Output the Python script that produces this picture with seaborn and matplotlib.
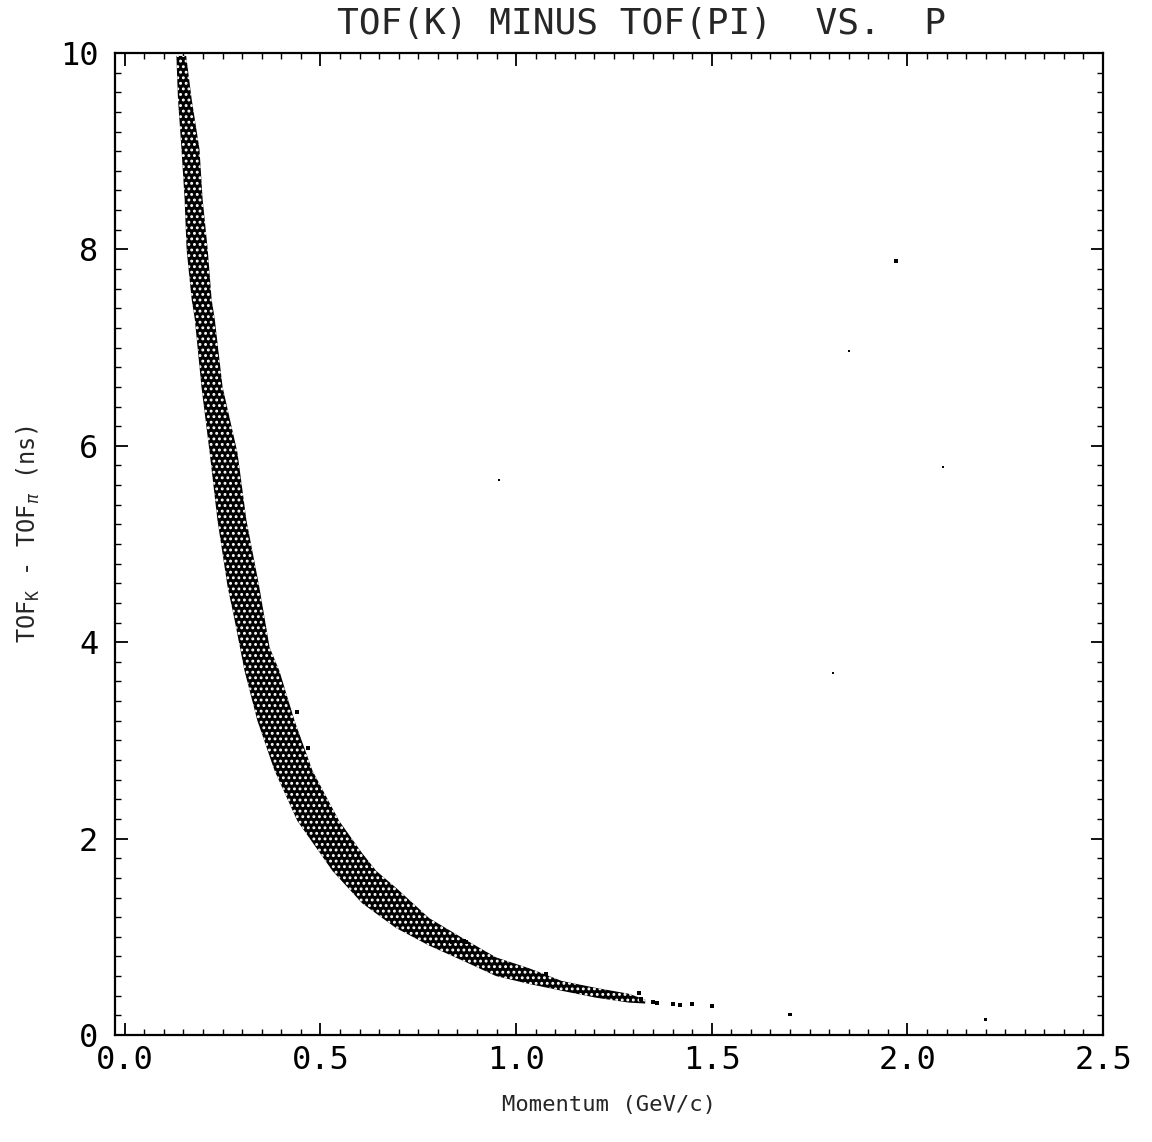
import numpy as np
import pandas as pd
import matplotlib
matplotlib.use("Agg")
import matplotlib.pyplot as plt
import seaborn as sns
from matplotlib.ticker import MultipleLocator

# ---- data ----
# dense (lower-left) edge of the kaon band, top to bottom
inner_p = [0.132, 0.136, 0.145, 0.153, 0.158, 0.171, 0.179, 0.196, 0.217, 0.237, 0.263, 0.281,
           0.306, 0.339, 0.383, 0.441, 0.531, 0.607, 0.693, 0.778, 0.862, 0.949, 1.033, 1.117,
           1.204, 1.288, 1.330]
inner_tof = [9.97, 9.53, 9.02, 8.51, 8.00, 7.49, 7.29, 6.60, 5.93, 5.24, 4.56, 4.22,
             3.71, 3.20, 2.69, 2.18, 1.67, 1.34, 1.09, 0.91, 0.76, 0.60, 0.52, 0.45,
             0.38, 0.33, 0.32]
# sparse (upper-right) edge of the band, top to bottom
outer_p = [0.157, 0.171, 0.191, 0.199, 0.212, 0.222, 0.230, 0.250, 0.288, 0.311, 0.344, 0.370,
           0.395, 0.434, 0.480, 0.548, 0.607, 0.643, 0.693, 0.778, 0.862, 0.949, 1.033, 1.117,
           1.204, 1.288, 1.330]
outer_tof = [9.97, 9.53, 9.02, 8.51, 8.00, 7.49, 7.29, 6.60, 5.93, 5.24, 4.56, 3.95,
             3.71, 3.20, 2.69, 2.18, 1.85, 1.67, 1.50, 1.19, 0.99, 0.79, 0.68, 0.55,
             0.48, 0.42, 0.36]
# isolated points at the fringe and in the high-momentum tail
fringe_p = [0.439, 0.469, 0.837, 0.872, 0.867, 1.076, 1.314, 1.32, 1.35, 1.36, 1.40, 1.42, 1.45, 1.50]
fringe_tof = [3.29, 2.92, 0.95, 0.95, 0.96, 0.62, 0.43, 0.37, 0.34, 0.33, 0.32, 0.31, 0.32, 0.30]
# stray points elsewhere
stray_p = [1.97, 1.85, 2.09, 1.81, 0.957, 1.70, 2.20]
stray_tof = [7.88, 6.97, 5.78, 3.69, 5.65, 0.21, 0.16]
stray_size = [9, 2, 2, 2, 2, 7, 4]

title = "TOF(K) MINUS TOF(PI)  VS.  P"
xlabel = "Momentum (GeV/c)"
ylabel = r"TOF$_\mathregular{K}$ - TOF$_\pi$ (ns)"
xticks = [0.0, 0.5, 1.0, 1.5, 2.0, 2.5]
yticks = [0, 2, 4, 6, 8, 10]

# ---- style ----
sns.set_style("ticks")
plt.rcParams["font.family"] = ["DejaVu Sans Mono", "DejaVu Sans"]
plt.rcParams["mathtext.fontset"] = "dejavusans"
plt.rcParams["hatch.linewidth"] = 1.3

fig = plt.figure(figsize=(11.52, 11.42), dpi=100)
ax = fig.add_axes([0.0998, 0.0937, 0.8577, 0.8599])

band_p = list(inner_p) + list(outer_p[::-1])
band_t = list(inner_tof) + list(outer_tof[::-1])
ax.fill(band_p, band_t, facecolor="black", edgecolor="white", hatch="...", linewidth=0)

fr = pd.DataFrame({"p": fringe_p, "t": fringe_tof})
sns.scatterplot(data=fr, x="p", y="t", ax=ax, color="black", s=5, marker="s",
                linewidth=0, legend=False)
st = pd.DataFrame({"p": stray_p, "t": stray_tof, "s": stray_size})
ax.scatter(st["p"], st["t"], s=st["s"], color="black", marker="s", linewidth=0)

ax.set_xlim(-0.025, 2.5)
ax.set_ylim(0, 10)
ax.set_xticks(xticks)
ax.set_xticklabels([f"{v:.1f}" for v in xticks])
ax.set_yticks(yticks)
ax.set_yticklabels([str(v) for v in yticks])
ax.xaxis.set_minor_locator(MultipleLocator(0.05))
ax.yaxis.set_minor_locator(MultipleLocator(0.2))
ax.tick_params(which="both", direction="in", top=True, right=True, colors="black")
ax.tick_params(which="major", length=9, width=1.3, labelsize=23)
ax.tick_params(axis="x", which="major", pad=7)
ax.tick_params(axis="y", which="major", pad=12)
ax.tick_params(which="minor", length=4.5, width=1.0)
for sp in ax.spines.values():
    sp.set_linewidth(1.6)
    sp.set_color("black")

ax.set_xlabel(xlabel, fontsize=16, labelpad=14)
ax.set_ylabel(ylabel, fontsize=17)
ax.yaxis.set_label_coords(-0.074, 0.51)
ax.set_title(title, fontsize=26, pad=14, x=0.533)

fig.savefig("out.png", dpi=100, facecolor="white")
